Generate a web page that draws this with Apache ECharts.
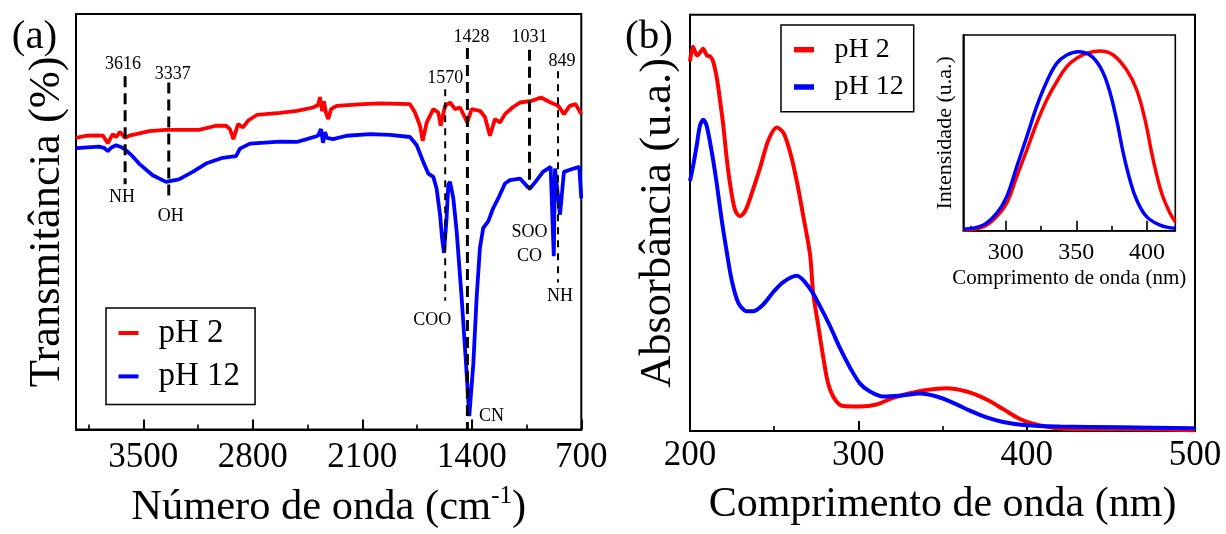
<!DOCTYPE html>
<html>
<head>
<meta charset="utf-8">
<script src="https://cdn.jsdelivr.net/npm/echarts@6/dist/echarts.min.js"></script>
<style>
  html, body { margin: 0; padding: 0; background: #fff; }
  #chart { width: 1226px; height: 534px; }
</style>
</head>
<body>
<div id="chart"></div>
<script>
// ---------- (a) FTIR: wavenumber (cm-1) and relative transmittance ----------
const ftirPH2Wn = [3930,3866,3802,3757,3727,3695,3674,3649,3617,3585,3546,3463,3355,3144,3035,2971,2946,2924,2894,2863,2831,2775,2626,2519,2415,2383,2370,2357,2345,2332,2317,2300,2264,2095,1987,1795,1763,1731,1714,1688,1646,1614,1599,1571,1539,1507,1475,1429,1401,1348,1316,1284,1252,1220,1188,1140,1092,1018,958,896,847,811,774,737,700];
const ftirPH2T  = [70.2,70.7,70.8,70.7,68.9,71.1,70.4,71.6,70.2,70.8,71.1,71.8,72.1,72.1,73.1,73.1,72.3,69.9,73.5,72.7,74.3,75.7,76.2,76.7,77.5,78.1,80.0,76.6,79.0,76.2,74.7,77.1,77.9,78.3,78.5,78.3,76.3,73.1,69.5,73.9,77.1,76.3,73.1,77.9,78.7,77.1,77.5,73.9,77.1,76.7,75.2,70.7,74.7,73.9,75.9,77.5,78.7,79.1,79.9,78.7,77.9,75.9,77.9,78.3,75.9];
const ftirPH12Wn = [3930,3783,3751,3727,3706,3674,3642,3610,3572,3527,3440,3355,3272,3184,3099,2992,2907,2882,2818,2626,2519,2455,2383,2364,2351,2338,2326,2287,2200,2051,1923,1795,1752,1710,1678,1646,1625,1603,1590,1578,1561,1550,1539,1518,1497,1465,1437,1416,1390,1369,1348,1327,1295,1263,1231,1188,1156,1092,1043,1028,993,945,896,884,876,868,859,836,811,749,713,700];
const ftirPH12T  = [67.7,68.1,67.8,67.0,67.8,68.4,68.0,67.2,65.9,64.0,61.2,59.6,60.2,62.0,64.0,65.4,65.8,67.6,68.8,69.3,69.2,69.9,70.7,72.3,69.0,71.6,70.2,69.9,70.7,71.1,70.9,70.4,68.4,64.4,61.6,60.8,58.0,51.7,46.1,42.5,50.9,59.0,59.6,55.6,47.8,31.8,15.9,3.2,15.9,31.8,43.7,48.5,50.1,53.3,55.6,59.2,60.0,60.4,58.4,58.0,59.6,62.0,63.2,62.8,41.7,62.8,62.8,51.7,62.0,62.8,63.2,55.6];

// band assignments
const bandWn    = [3616, 3337, 1570, 1428, 1031, 849];
const bandGroup = ['NH', 'OH', 'COO', 'CN', 'SOO\nCO', 'NH'];

// ---------- (b) UV-vis absorbance ----------
const uvPH2Nm = [200,201.8,204.2,205.9,207.7,210.1,211.9,213.7,215.9,217.8,219.8,221.8,223.8,226.7,229.7,232.7,236.6,241.6,246.5,251.5,255.4,259.4,263.4,267.3,271.3,273.2,276.2,279.2,282.1,286.1,291.0,301.0,310.9,320.7,330.6,340.6,352.4,364.3,376.2,386.0,396.0,403.9,415.7,429.6,455.3,500];
const uvPH2A  = [88.8,92.3,90.2,90.9,91.8,90.2,90.0,88.8,84.9,79.5,73.3,65.5,59.4,53.2,51.6,52.8,57.0,63.2,69.8,72.9,71.7,67.1,60.1,51.6,42.4,33.1,25.3,17.6,11.4,7.6,6.0,5.9,6.4,8.0,9.1,9.9,10.3,9.5,7.6,5.3,2.9,1.8,0.8,0.5,0.5,0.2];
const uvPH12Nm = [200,202,204,205.9,207.9,209.9,212.9,215.9,218.8,221.8,224.8,228.7,233.7,237.6,243.5,249.5,255.4,263.4,271.3,277.2,283.1,289.1,295.0,301.0,306.9,314.8,324.7,336.6,346.5,356.4,366.3,376.2,386.0,399.9,419.7,455.3,500];
const uvPH12A  = [60.1,64.0,68.6,73.3,74.8,73.3,67.1,59.4,50.8,43.1,36.2,30.8,28.8,28.8,30.4,33.4,35.8,37.3,34.2,30.0,25.3,19.9,15.3,11.4,9.5,8.3,8.5,9.0,8.3,6.8,4.9,3.3,2.2,1.4,1.1,0.9,0.7];

// ---------- inset: emission intensity ----------
const emPH2Nm = [270,284.2,293.6,300.7,307.8,314.9,321.9,329.0,336.1,343.2,350.2,357.3,366.7,376.1,385.6,392.7,398.6,404.4,410.4,416.3,420];
const emPH2I  = [0.4,2.0,7.2,14.0,27.6,41.2,54.9,66.8,76.1,83.8,88.1,90.6,91.8,89.8,82.1,71.9,56.6,36.1,19.1,8.9,4.6];
const emPH12Nm = [270,284.2,293.6,300.7,307.8,314.9,321.9,329.0,336.1,343.2,351.4,359.6,366.7,372.6,378.5,383.2,387.9,392.7,399.7,409.2,420];
const emPH12I  = [0.7,2.9,8.9,17.4,32.7,48.0,63.4,76.1,85.5,89.8,91.5,89.8,83.8,73.6,56.6,39.6,25.9,15.7,7.2,2.9,1.2];

// axis ticks
const ftirTicks = [700, 1400, 2100, 2800, 3500];
const ftirMinorTicks = [1050, 1750, 2450, 3150, 3850];
const uvTicks = [200, 300, 400, 500];
const uvMinorTicks = [250, 350, 450];
const emTicks = [300, 350, 400];
const emMinorTicks = [275, 325, 375];

const seriesNames = ['pH 2', 'pH 12'];

// ---------- styling / layout ----------
const FONT = '"Liberation Serif", "Times New Roman", serif';
const RED = '#ff0000';
const BLUE = '#0000ff';

// vertical extent of each band marker (transmittance units) and label placement
const bandLayout = [
  { top: 85.0, bottom: 59.0, heavy: true,  numY: 87.8, numDx: -2, grpY: 55.9, grpDx: -3 },
  { top: 83.5, bottom: 55.6, heavy: true,  numY: 85.5, numDx: 4,  grpY: 51.3, grpDx: 2 },
  { top: 81.9, bottom: 31.0, heavy: false, numY: 84.5, numDx: 0,  grpY: 26.2, grpDx: -13 },
  { top: 91.8, bottom: 0,    heavy: true,  numY: 94.5, numDx: 4,  grpY: 3.2,  grpDx: 24 },
  { top: 91.4, bottom: 57.6, heavy: true,  numY: 94.3, numDx: 0,  grpY: 44.6, grpDx: 0 },
  { top: 86.2, bottom: 35.4, heavy: false, numY: 88.6, numDx: 4,  grpY: 32.0, grpDx: 2 }
];

const zip = (xs, ys) => xs.map((x, i) => [x, ys[i]]);
const plain = v => String(v);

function majorAxis(gridIndex, min, max, opts) {
  return Object.assign({
    type: 'value', gridIndex, min, max, position: 'bottom',
    splitLine: { show: false },
    axisLine: { show: true, onZero: false, lineStyle: { color: '#000', width: 2 } }
  }, opts);
}
function minorAxis(gridIndex, min, max, values, inverse) {
  return {
    type: 'value', gridIndex, min, max, inverse: !!inverse, position: 'bottom',
    splitLine: { show: false },
    axisLine: { show: false },
    axisLabel: { show: false },
    axisTick: { show: true, inside: true, length: 5, customValues: values, lineStyle: { color: '#000', width: 1.6 } }
  };
}
function valueYAxis(gridIndex, name, fontSize, lineHeight, nameGap) {
  return {
    type: 'value', gridIndex, min: 0, max: 100,
    name, nameLocation: 'middle', nameRotate: 90, nameGap,
    nameTextStyle: { fontFamily: FONT, fontSize, lineHeight, color: '#000' },
    splitLine: { show: false },
    axisLine: { show: true, lineStyle: { color: '#000', width: 2 } },
    axisTick: { show: false },
    axisLabel: { show: false }
  };
}

const xAxes = [
  // (a) wavenumber, decreasing to the right
  majorAxis(0, 700, 3930, {
    inverse: true,
    axisTick: { show: true, inside: true, length: 10, customValues: ftirTicks, lineStyle: { color: '#000', width: 2 } },
    axisLabel: { show: true, customValues: ftirTicks, formatter: plain, color: '#000', fontFamily: FONT, fontSize: 35, lineHeight: 40, margin: 8 },
    name: '{a|Número de onda (cm}{s|-1}{a|)}',
    nameLocation: 'middle', nameGap: 54,
    nameTextStyle: {
      rich: {
        a: { fontFamily: FONT, fontSize: 42.5, lineHeight: 48, color: '#000' },
        s: { fontFamily: FONT, fontSize: 25, lineHeight: 26, verticalAlign: 'top', color: '#000' }
      }
    }
  }),
  minorAxis(0, 700, 3930, ftirMinorTicks, true),
  // (b) wavelength
  majorAxis(1, 200, 500, {
    interval: 100,
    axisTick: { show: true, inside: true, length: 10, customValues: uvTicks, lineStyle: { color: '#000', width: 2 } },
    axisLabel: { show: true, customValues: uvTicks, formatter: plain, color: '#000', fontFamily: FONT, fontSize: 35, lineHeight: 40, margin: 5 },
    name: 'Comprimento de onda (nm)', nameLocation: 'middle', nameGap: 40,
    nameTextStyle: { fontFamily: FONT, fontSize: 42, lineHeight: 48, color: '#000' }
  }),
  minorAxis(1, 200, 500, uvMinorTicks, false),
  // inset wavelength
  majorAxis(2, 270, 420, {
    axisLine: { show: true, onZero: false, lineStyle: { color: '#000', width: 1.6 } },
    axisTick: { show: true, inside: true, length: 10, customValues: emTicks, lineStyle: { color: '#000', width: 1.6 } },
    axisLabel: { show: true, customValues: emTicks, formatter: plain, color: '#000', fontFamily: FONT, fontSize: 24, lineHeight: 26, margin: 9 },
    name: 'Comprimento de onda (nm)', nameLocation: 'middle', nameGap: 34,
    nameTextStyle: { fontFamily: FONT, fontSize: 21, lineHeight: 24, color: '#000' }
  }),
  minorAxis(2, 270, 420, emMinorTicks, false)
];

const yAxes = [
  valueYAxis(0, 'Transmitância (%)', 44.5, 50, 4),
  valueYAxis(1, 'Absorbância (u.a.)', 44.5, 50, 7),
  valueYAxis(2, 'Intensidade (u.a.)', 22, 24, 6)
];
yAxes[2].axisLine.lineStyle.width = 1.6;

function curve(name, color, xIdx, yIdx, xs, ys, width, smooth) {
  return {
    name, type: 'line', xAxisIndex: xIdx, yAxisIndex: yIdx,
    data: zip(xs, ys), showSymbol: false, symbol: 'none', smooth: smooth || false,
    lineStyle: { color, width }, itemStyle: { color }, z: 3, silent: true
  };
}

const series = [
  curve('pH 2', RED, 0, 0, ftirPH2Wn, ftirPH2T, 3.8, false),
  curve('pH 12', BLUE, 0, 0, ftirPH12Wn, ftirPH12T, 3.8, false),
  curve('pH 2', RED, 2, 1, uvPH2Nm, uvPH2A, 4, 0.3),
  curve('pH 12', BLUE, 2, 1, uvPH12Nm, uvPH12A, 4, 0.3),
  curve('pH 2', RED, 4, 2, emPH2Nm, emPH2I, 3.5, 0.4),
  curve('pH 12', BLUE, 4, 2, emPH12Nm, emPH12I, 3.5, 0.4)
];

// dashed band markers
bandWn.forEach((wn, i) => {
  const L = bandLayout[i];
  series.push({
    type: 'line', xAxisIndex: 0, yAxisIndex: 0, silent: true, z: 6,
    data: [[wn, L.top], [wn, L.bottom]], showSymbol: false, symbol: 'none',
    lineStyle: { color: '#000', width: L.heavy ? 3 : 2, type: L.heavy ? [11, 6] : [7, 6] }
  });
});

// band numbers and group labels
const bandLabelData = [];
bandWn.forEach((wn, i) => {
  const L = bandLayout[i];
  bandLabelData.push({ value: [wn, L.numY], label: { formatter: String(wn), offset: [L.numDx, 0] } });
  bandLabelData.push({ value: [wn, L.grpY], label: { formatter: bandGroup[i], offset: [L.grpDx, 0] } });
});
series.push({
  type: 'scatter', xAxisIndex: 0, yAxisIndex: 0, silent: true, z: 7,
  symbolSize: 0, data: bandLabelData,
  itemStyle: { opacity: 1, color: '#000' },
  label: {
    show: true, position: [0, 0], align: 'center', verticalAlign: 'middle',
    fontFamily: FONT, fontSize: 18, lineHeight: 24, color: '#000', opacity: 1
  }
});

function legendBox(left, top, fontSize, lineHeight, itemGap, itemHeight, padding, textPad) {
  return {
    orient: 'vertical', left, top, data: seriesNames,
    icon: 'rect', itemWidth: 20, itemHeight, itemGap, padding,
    borderColor: '#000', borderWidth: 1.5, backgroundColor: '#fff',
    selectedMode: false,
    formatter: n => '{t|' + n + '}',
    textStyle: {
      color: '#000', fontFamily: FONT, fontSize, lineHeight,
      rich: { t: { fontFamily: FONT, fontSize, lineHeight, color: '#000', padding: [0, 0, 0, textPad] } }
    }
  };
}

const option = {
  animation: false,
  backgroundColor: '#fff',
  grid: [
    { left: 76, top: 14, width: 505.3, height: 419.3, show: true, borderColor: '#000', borderWidth: 2, backgroundColor: 'transparent' },
    { left: 690, top: 14.7, width: 505, height: 431.3, show: true, borderColor: '#000', borderWidth: 2, backgroundColor: 'transparent' },
    { left: 963.3, top: 35, width: 212, height: 195.7, show: true, borderColor: '#000', borderWidth: 1.6, backgroundColor: 'transparent' }
  ],
  xAxis: xAxes,
  yAxis: yAxes,
  legend: [
    legendBox(106, 308, 33, 36, 7.4, 4, [7, 15, 10, 12.5], 15),
    legendBox(781, 25, 28, 30, 7.3, 5.5, [9.7, 10, 9.7, 13], 15.5)
  ],
  graphic: [
    { type: 'text', x: 34.5, y: 37.5, style: { text: '(a)', align: 'center', verticalAlign: 'middle', fontFamily: FONT, fontSize: 41, fill: '#000' } },
    { type: 'text', x: 649, y: 37.5, style: { text: '(b)', align: 'center', verticalAlign: 'middle', fontFamily: FONT, fontSize: 41, fill: '#000' } }
  ],
  series
};

const chart = echarts.init(document.getElementById('chart'), null, { renderer: 'canvas' });
chart.setOption(option);
</script>
</body>
</html>
